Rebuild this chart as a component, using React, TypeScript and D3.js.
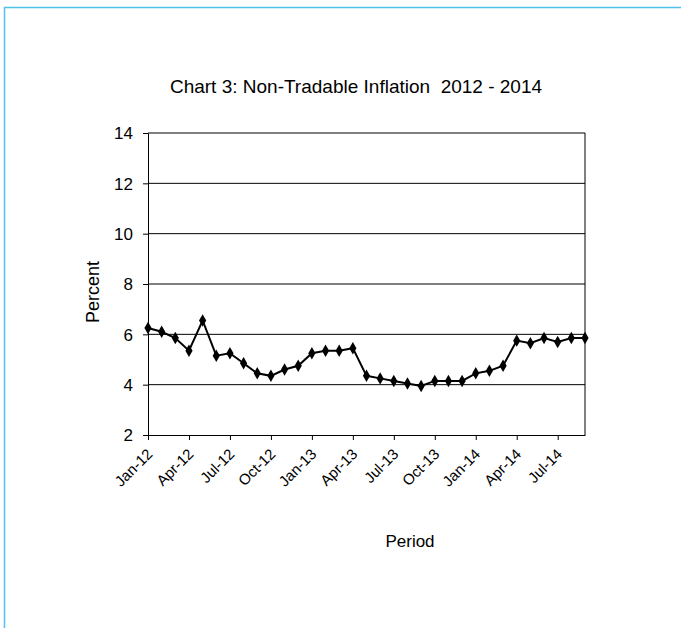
import React, { useEffect, useRef } from 'react';
import * as d3 from 'd3';

// Monthly periods, Jan-12 .. Sep-14
const periods: string[] = [
  'Jan-12', 'Feb-12', 'Mar-12', 'Apr-12', 'May-12', 'Jun-12', 'Jul-12', 'Aug-12', 'Sep-12', 'Oct-12', 'Nov-12', 'Dec-12',
  'Jan-13', 'Feb-13', 'Mar-13', 'Apr-13', 'May-13', 'Jun-13', 'Jul-13', 'Aug-13', 'Sep-13', 'Oct-13', 'Nov-13', 'Dec-13',
  'Jan-14', 'Feb-14', 'Mar-14', 'Apr-14', 'May-14', 'Jun-14', 'Jul-14', 'Aug-14', 'Sep-14',
];

const inflation: number[] = [
  6.25, 6.1, 5.85, 5.35, 6.55, 5.15, 5.25, 4.85, 4.45, 4.35, 4.6, 4.75,
  5.25, 5.35, 5.35, 5.45, 4.35, 4.25, 4.15, 4.05, 3.95, 4.15, 4.15, 4.15,
  4.45, 4.55, 4.75, 5.75, 5.65, 5.85, 5.7, 5.85, 5.85,
];

const xTickLabels: string[] = ['Jan-12', 'Apr-12', 'Jul-12', 'Oct-12', 'Jan-13', 'Apr-13', 'Jul-13', 'Oct-13', 'Jan-14', 'Apr-14', 'Jul-14'];
const yTicks: number[] = [2, 4, 6, 8, 10, 12, 14];

const App: React.FC = () => {
  const svgRef = useRef<SVGSVGElement | null>(null);

  useEffect(() => {
    if (!svgRef.current) return;
    const svg = d3.select(svgRef.current);
    svg.selectAll('*').remove();

    const width = 681;
    const height = 628;
    const margin = { top: 133, right: 96, bottom: 193, left: 148 };
    const font = '"Liberation Sans", Arial, sans-serif';

    // light blue frame
    svg.append('path')
      .attr('d', `M4.5,${height} V7.5 H${width}`)
      .attr('fill', 'none')
      .attr('stroke', '#4fc3ec')
      .attr('stroke-width', 1.5);

    const x = d3.scalePoint<string>()
      .domain(periods)
      .range([margin.left, width - margin.right]);

    const y = d3.scaleLinear()
      .domain([2, 14])
      .range([height - margin.bottom, margin.top]);

    // grid lines
    svg.append('g')
      .selectAll('line')
      .data(yTicks.filter(t => t > 2))
      .join('line')
      .attr('x1', margin.left)
      .attr('x2', width - margin.right)
      .attr('y1', d => y(d))
      .attr('y2', d => y(d))
      .attr('stroke', '#000')
      .attr('stroke-width', 1);

    // right border of plot area
    svg.append('line')
      .attr('x1', width - margin.right).attr('x2', width - margin.right)
      .attr('y1', margin.top).attr('y2', height - margin.bottom)
      .attr('stroke', '#000');

    const yAxis = svg.append('g')
      .attr('transform', `translate(${margin.left},0)`)
      .call(d3.axisLeft(y).tickValues(yTicks).tickSize(5).tickSizeOuter(0).tickFormat(d3.format('d')));
    yAxis.selectAll('text')
      .attr('font-family', font)
      .attr('font-size', 17)
      .attr('fill', '#000')
      .attr('x', -15)
      .attr('dy', '0.34em');

    const xAxis = svg.append('g')
      .attr('transform', `translate(0,${height - margin.bottom})`)
      .call(d3.axisBottom(x).tickValues(xTickLabels).tickSize(5).tickSizeOuter(0));
    xAxis.selectAll('text')
      .attr('font-family', font)
      .attr('font-size', 15)
      .attr('fill', '#000')
      .attr('text-anchor', 'end')
      .attr('x', 0)
      .attr('y', 0)
      .attr('dy', 0)
      .attr('transform', 'translate(5,20) rotate(-45)');

    svg.selectAll('.domain').attr('stroke', '#000');

    const pts = periods.map((p, i) => ({ p, v: inflation[i] }));

    svg.append('path')
      .datum(pts)
      .attr('fill', 'none')
      .attr('stroke', '#000')
      .attr('stroke-width', 2)
      .attr('d', d3.line<{ p: string; v: number }>()
        .x(d => x(d.p) as number)
        .y(d => y(d.v)));

    svg.append('g')
      .selectAll('path')
      .data(pts)
      .join('path')
      .attr('transform', d => `translate(${x(d.p)},${y(d.v)})`)
      .attr('d', d3.symbol().type(d3.symbolDiamond).size(45)())
      .attr('fill', '#000');

    svg.append('text')
      .attr('x', 356)
      .attr('y', 92.5)
      .attr('text-anchor', 'middle')
      .attr('font-family', font)
      .attr('font-size', 19)
      .attr('xml:space', 'preserve')
      .text('Chart 3: Non-Tradable Inflation  2012 - 2014');

    svg.append('text')
      .attr('transform', 'translate(98.5,292) rotate(-90)')
      .attr('text-anchor', 'middle')
      .attr('font-family', font)
      .attr('font-size', 18)
      .text('Percent');

    svg.append('text')
      .attr('x', 410)
      .attr('y', 547)
      .attr('text-anchor', 'middle')
      .attr('font-family', font)
      .attr('font-size', 17)
      .text('Period');
  }, []);

  return (
    <svg ref={svgRef} width={681} height={628}
      style={{ position: 'absolute', left: 0, top: 0, background: '#fff' }} />
  );
};

export default App;
